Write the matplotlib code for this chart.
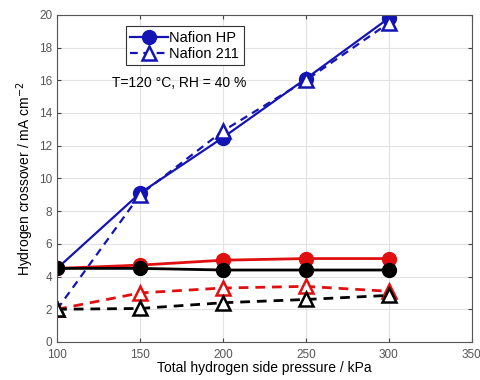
import matplotlib
matplotlib.use("Agg")
import matplotlib.pyplot as plt

plt.rcParams['font.family'] = ['Liberation Sans', 'DejaVu Sans']

# pressure (kPa)
pressure = [100, 150, 200, 250, 300]

# hydrogen crossover (mA cm^-2)
hp_blue = [4.5, 9.1, 12.5, 16.1, 19.8]
n211_blue = [2.0, 9.0, 12.9, 16.0, 19.5]
hp_red = [4.5, 4.7, 5.0, 5.1, 5.1]
n211_red = [2.0, 3.0, 3.3, 3.4, 3.1]
hp_black = [4.5, 4.5, 4.4, 4.4, 4.4]
n211_black = [2.0, 2.05, 2.4, 2.6, 2.85]

blue = '#1414b4'
red = '#e01010'

fig = plt.figure(figsize=(4.8, 3.8), dpi=100)
ax = fig.add_axes([0.119, 0.1, 0.864, 0.861])

ax.plot(pressure, hp_blue, '-o', color=blue, lw=1.6, ms=10,
        mfc=blue, label='Nafion HP')
ax.plot(pressure, n211_blue, '--^', color=blue, lw=1.6, ms=10,
        mfc='white', mew=1.8, dashes=(3.5, 2.5), label='Nafion 211')

ax.plot(pressure, hp_red, '-o', color=red, lw=2.0, ms=10, mfc=red)
ax.plot(pressure, n211_red, '--^', color=red, lw=2.0, ms=10, mfc='white',
        mew=1.8, dashes=(3.5, 2.5))
ax.plot(pressure, hp_black, '-o', color='black', lw=2.0, ms=10, mfc='black')
ax.plot(pressure, n211_black, '--^', color='black', lw=2.0, ms=10,
        mfc='white', mew=1.8, dashes=(3.5, 2.5))

ax.set_xlim(100, 350)
ax.set_ylim(0, 20)
ax.set_xticks([100, 150, 200, 250, 300, 350])
ax.set_yticks(range(0, 21, 2))
ax.grid(True, color='#e3e3e3', lw=0.8)
ax.set_axisbelow(True)
ax.tick_params(direction='in', top=True, right=True, labelsize=8.5,
               labelcolor='#555555', color='#444444', length=3)
ax.tick_params(axis='x', pad=5)
for s in ax.spines.values():
    s.set_color('#555555')
    s.set_linewidth(0.8)

ax.set_xlabel('Total hydrogen side pressure / kPa', fontsize=10, labelpad=0)
ax.set_ylabel('Hydrogen crossover / mA cm$^{-2}$', fontsize=10, labelpad=2)

ax.text(133, 15.6, 'T=120 °C, RH = 40 %', fontsize=10)

leg = ax.legend(loc='upper left', bbox_to_anchor=(0.165, 0.965), fontsize=10.5,
                handlelength=2.6, handletextpad=0.1, borderpad=0.3,
                labelspacing=0.15, fancybox=False, framealpha=1,
                edgecolor='#333333', borderaxespad=0)
leg.get_frame().set_linewidth(0.8)

fig.savefig('out.png', dpi=100)
